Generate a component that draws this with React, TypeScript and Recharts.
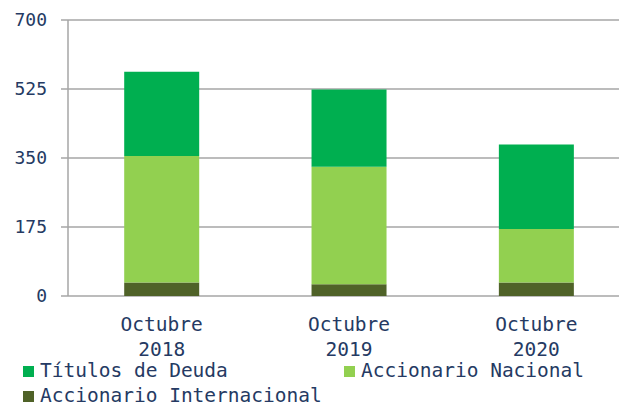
import { BarChart, Bar, XAxis, YAxis, CartesianGrid } from "recharts";

const FONT = '"DejaVu Sans Mono", monospace';
const TEXT = "#253a63";
const GRID = "#a6a6a6";

const periods = ["Octubre 2018", "Octubre 2019", "Octubre 2020"];
const internacional = [34, 30, 34];
const nacional = [321, 298, 136];
const deuda = [214, 196, 214];
const yTicks = [0, 175, 350, 525, 700];
const edgeTicks = [0, 1, 2, 3];

const series = [
  { key: "deuda", name: "Títulos de Deuda", color: "#00af50" },
  { key: "nacional", name: "Accionario Nacional", color: "#92d050" },
  { key: "internacional", name: "Accionario Internacional", color: "#4f6228" },
];

const data = periods.map((p, i) => ({
  period: p,
  internacional: internacional[i],
  nacional: nacional[i],
  deuda: deuda[i],
}));

function PeriodTick({ x, y, payload }: any) {
  const [word, year] = String(payload.value).split(" ");
  return (
    <text x={x} y={y} textAnchor="middle" fill={TEXT} fontFamily={FONT} fontSize={19.5}>
      <tspan x={x} dy={27}>{word}</tspan>
      <tspan x={x} dy={25}>{year}</tspan>
    </text>
  );
}

function Legend() {
  const pos = [
    { left: 23, top: 360 },
    { left: 344, top: 360 },
    { left: 23, top: 385 },
  ];
  return (
    <>
      {series.map((s, i) => (
        <div
          key={s.key}
          style={{
            position: "absolute",
            left: pos[i].left,
            top: pos[i].top,
            display: "flex",
            alignItems: "center",
            gap: 6,
            fontFamily: FONT,
            fontSize: 19.5,
            lineHeight: "22px",
            color: TEXT,
            whiteSpace: "nowrap",
          }}
        >
          <span style={{ width: 11, height: 11, background: s.color, display: "inline-block" }} />
          <span>{s.name}</span>
        </div>
      ))}
    </>
  );
}

export default function App() {
  return (
    <div
      style={{
        position: "fixed",
        left: 0,
        top: 0,
        width: 619,
        height: 406,
        overflow: "hidden",
        background: "#fff",
      }}
    >
      <BarChart
        width={632}
        height={406}
        data={data}
        margin={{ top: 20, right: 2, left: 0, bottom: 0 }}
        barCategoryGap="30%"
      >
        <CartesianGrid horizontal vertical={false} stroke={GRID} strokeWidth={1.5} />
        <XAxis
          xAxisId="edges"
          type="number"
          domain={[0, 3]}
          ticks={edgeTicks}
          height={0}
          axisLine={{ stroke: GRID, strokeWidth: 1.5 }}
          tickLine={{ stroke: GRID, strokeWidth: 1.5 }}
          tickSize={6}
          tickFormatter={() => ""}
        />
        <XAxis
          xAxisId="cat"
          dataKey="period"
          height={110}
          axisLine={false}
          tickLine={false}
          tick={<PeriodTick />}
          interval={0}
        />
        <YAxis
          domain={[0, 700]}
          ticks={yTicks}
          width={68}
          axisLine={{ stroke: GRID, strokeWidth: 1.5 }}
          tickLine={{ stroke: GRID, strokeWidth: 1.5 }}
          tickSize={7}
          tickMargin={14}
          tick={{ fill: TEXT, fontFamily: FONT, fontSize: 18 }}
        />
        <Bar xAxisId="cat" dataKey="internacional" stackId="a" fill="#4f6228" isAnimationActive={false} />
        <Bar xAxisId="cat" dataKey="nacional" stackId="a" fill="#92d050" isAnimationActive={false} />
        <Bar xAxisId="cat" dataKey="deuda" stackId="a" fill="#00af50" isAnimationActive={false} />
      </BarChart>
      <Legend />
    </div>
  );
}
